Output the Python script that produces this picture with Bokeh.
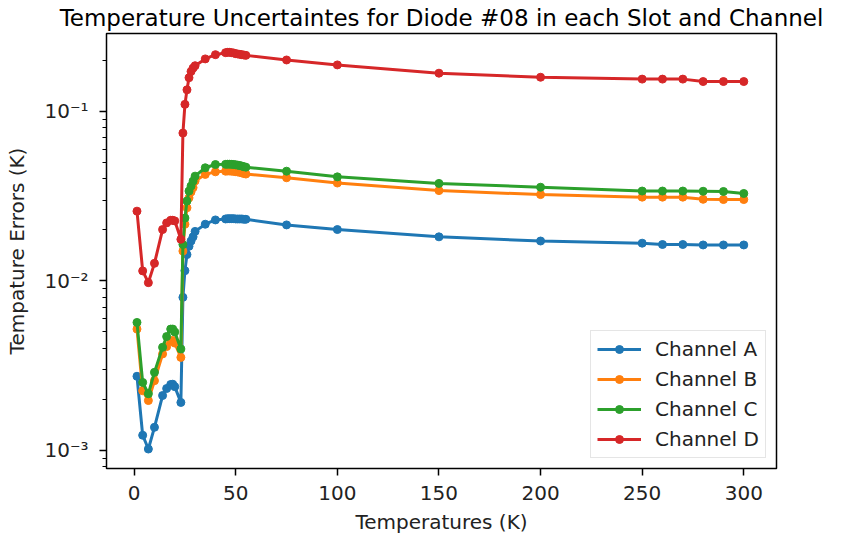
from bokeh.plotting import figure
from bokeh.models import FixedTicker, Range1d, CustomJSTickFormatter
from bokeh.embed import file_html
from bokeh.resources import INLINE

# ---- data ----
temps = [1.4, 4.2, 7, 10, 14, 16, 18, 19, 20, 23,
         24, 25, 26, 27, 28, 29, 30, 35, 40,
         45, 46, 47, 48, 49, 50, 51, 52, 53, 54, 55,
         75, 100, 150, 200, 250, 260, 270, 280, 290, 300]

channel_a = [0.00274, 0.00123, 0.00102, 0.00137, 0.00211, 0.00232, 0.00245, 0.00246, 0.00238, 0.00192,
             0.0080, 0.0115, 0.0143, 0.0160, 0.0172, 0.0182, 0.0196, 0.0216, 0.0229,
             0.0232, 0.0233, 0.0233, 0.0233, 0.0233, 0.0232, 0.0232, 0.0232, 0.0232, 0.0231, 0.0231,
             0.0214, 0.0201, 0.0182, 0.0172, 0.0167, 0.0164, 0.0164, 0.0163, 0.0163, 0.0163]

channel_b = [0.0052, 0.00225, 0.00197, 0.00258, 0.00371, 0.00410, 0.00444, 0.00445, 0.00430, 0.00354,
             0.0150, 0.0216, 0.0270, 0.0309, 0.0335, 0.0355, 0.0389, 0.0425, 0.0440,
             0.0444, 0.0445, 0.0445, 0.0444, 0.0443, 0.0441, 0.0439, 0.0437, 0.0434, 0.0430, 0.0427,
             0.0406, 0.0378, 0.0341, 0.0323, 0.0312, 0.0312, 0.0312, 0.0303, 0.0302, 0.0302]

channel_c = [0.00569, 0.00252, 0.00216, 0.00289, 0.00406, 0.0047, 0.0052, 0.0052, 0.0050, 0.00397,
             0.0164, 0.0235, 0.0296, 0.0339, 0.0363, 0.0388, 0.0415, 0.0465, 0.0486,
             0.0487, 0.0488, 0.0488, 0.0487, 0.0486, 0.0484, 0.0482, 0.0479, 0.0476, 0.0472, 0.0469,
             0.0444, 0.0411, 0.0376, 0.0357, 0.0339, 0.0339, 0.0339, 0.0338, 0.0337, 0.0328]

channel_d = [0.0258, 0.01146, 0.00977, 0.0127, 0.0201, 0.0220, 0.0228, 0.0228, 0.0226, 0.0176,
             0.0745, 0.110, 0.134, 0.158, 0.172, 0.180, 0.186, 0.204, 0.216,
             0.222, 0.223, 0.223, 0.222, 0.221, 0.219, 0.218, 0.217, 0.216, 0.215, 0.214,
             0.201, 0.188, 0.168, 0.159, 0.155, 0.155, 0.155, 0.150, 0.150, 0.150]

series_names = ["Channel A", "Channel B", "Channel C", "Channel D"]
series_colors = ["#1f77b4", "#ff7f0e", "#2ca02c", "#d62728"]
x_ticks = [0, 50, 100, 150, 200, 250, 300]
y_ticks = [1e-3, 1e-2, 1e-1]
y_minor = [8e-4, 9e-4] + [k * 1e-3 for k in range(2, 10)] + [k * 1e-2 for k in range(2, 10)] + [2e-1]

FONT = "DejaVu Sans"

p = figure(width=841, height=538, y_axis_type="log",
           output_backend="svg", toolbar_location=None,
           x_range=Range1d(-13.6, 316.1), y_range=Range1d(7.83e-4, 0.288),
           min_border_left=106, min_border_right=65, min_border_top=32, min_border_bottom=70,
           background_fill_color="white", border_fill_color="white")

p.title.text = "Temperature Uncertaintes for Diode #08 in each Slot and Channel"
p.title.text_font = FONT
p.title.text_font_size = "23px"
p.title.text_font_style = "normal"
p.title.text_color = "black"
p.title.align = "center"
p.title.standoff = 5

for vals, name, col in zip([channel_a, channel_b, channel_c, channel_d], series_names, series_colors):
    p.line(temps, vals, line_color=col, line_width=3, legend_label=name)
    p.scatter(temps, vals, marker="circle", size=8, fill_color=col, line_color=col, legend_label=name)

p.grid.visible = False
p.outline_line_color = "black"
p.outline_line_width = 1.5

p.xaxis.ticker = FixedTicker(ticks=x_ticks)
p.yaxis.ticker = FixedTicker(ticks=y_ticks, minor_ticks=y_minor)
p.yaxis.formatter = CustomJSTickFormatter(code="""
const e = Math.round(Math.log10(tick));
const sup = {"-": "\u207b", "0": "\u2070", "1": "\u00b9", "2": "\u00b2", "3": "\u00b3",
             "4": "\u2074", "5": "\u2075", "6": "\u2076", "7": "\u2077", "8": "\u2078", "9": "\u2079"};
return "10" + String(e).split("").map(c => sup[c]).join("");
""")

for ax in p.axis:
    ax.axis_line_color = None
    ax.major_tick_out = 7
    ax.major_tick_in = 0
    ax.minor_tick_out = 4
    ax.minor_tick_in = 0
    ax.major_tick_line_color = "black"
    ax.major_tick_line_width = 1.5
    ax.minor_tick_line_color = "black"
    ax.minor_tick_line_width = 1.2
    ax.major_label_text_font = FONT
    ax.major_label_text_font_size = "20px"
    ax.major_label_text_color = "#222222"
    ax.axis_label_text_font = FONT
    ax.axis_label_text_font_size = "20px"
    ax.axis_label_text_font_style = "normal"
    ax.axis_label_text_color = "#222222"

p.xaxis.minor_tick_line_color = None
p.xaxis.axis_label = "Temperatures (K)"
p.xaxis.major_label_standoff = 10
p.xaxis.axis_label_standoff = 7
p.yaxis.axis_label = "Tempature Errors (K)"
p.yaxis.major_label_standoff = 11
p.yaxis.axis_label_standoff = 12

lg = p.legend[0]
lg.location = (484, 10)
lg.label_text_font = FONT
lg.label_text_font_size = "20px"
lg.label_text_color = "#222222"
lg.glyph_width = 44
lg.glyph_height = 20
lg.label_height = 20
lg.label_standoff = 14
lg.spacing = 6
lg.padding = 6
lg.margin = 0
lg.border_line_color = "#cccccc"
lg.border_line_width = 1.5
lg.background_fill_alpha = 0.8

open("out.html", "w").write(file_html(p, INLINE))
